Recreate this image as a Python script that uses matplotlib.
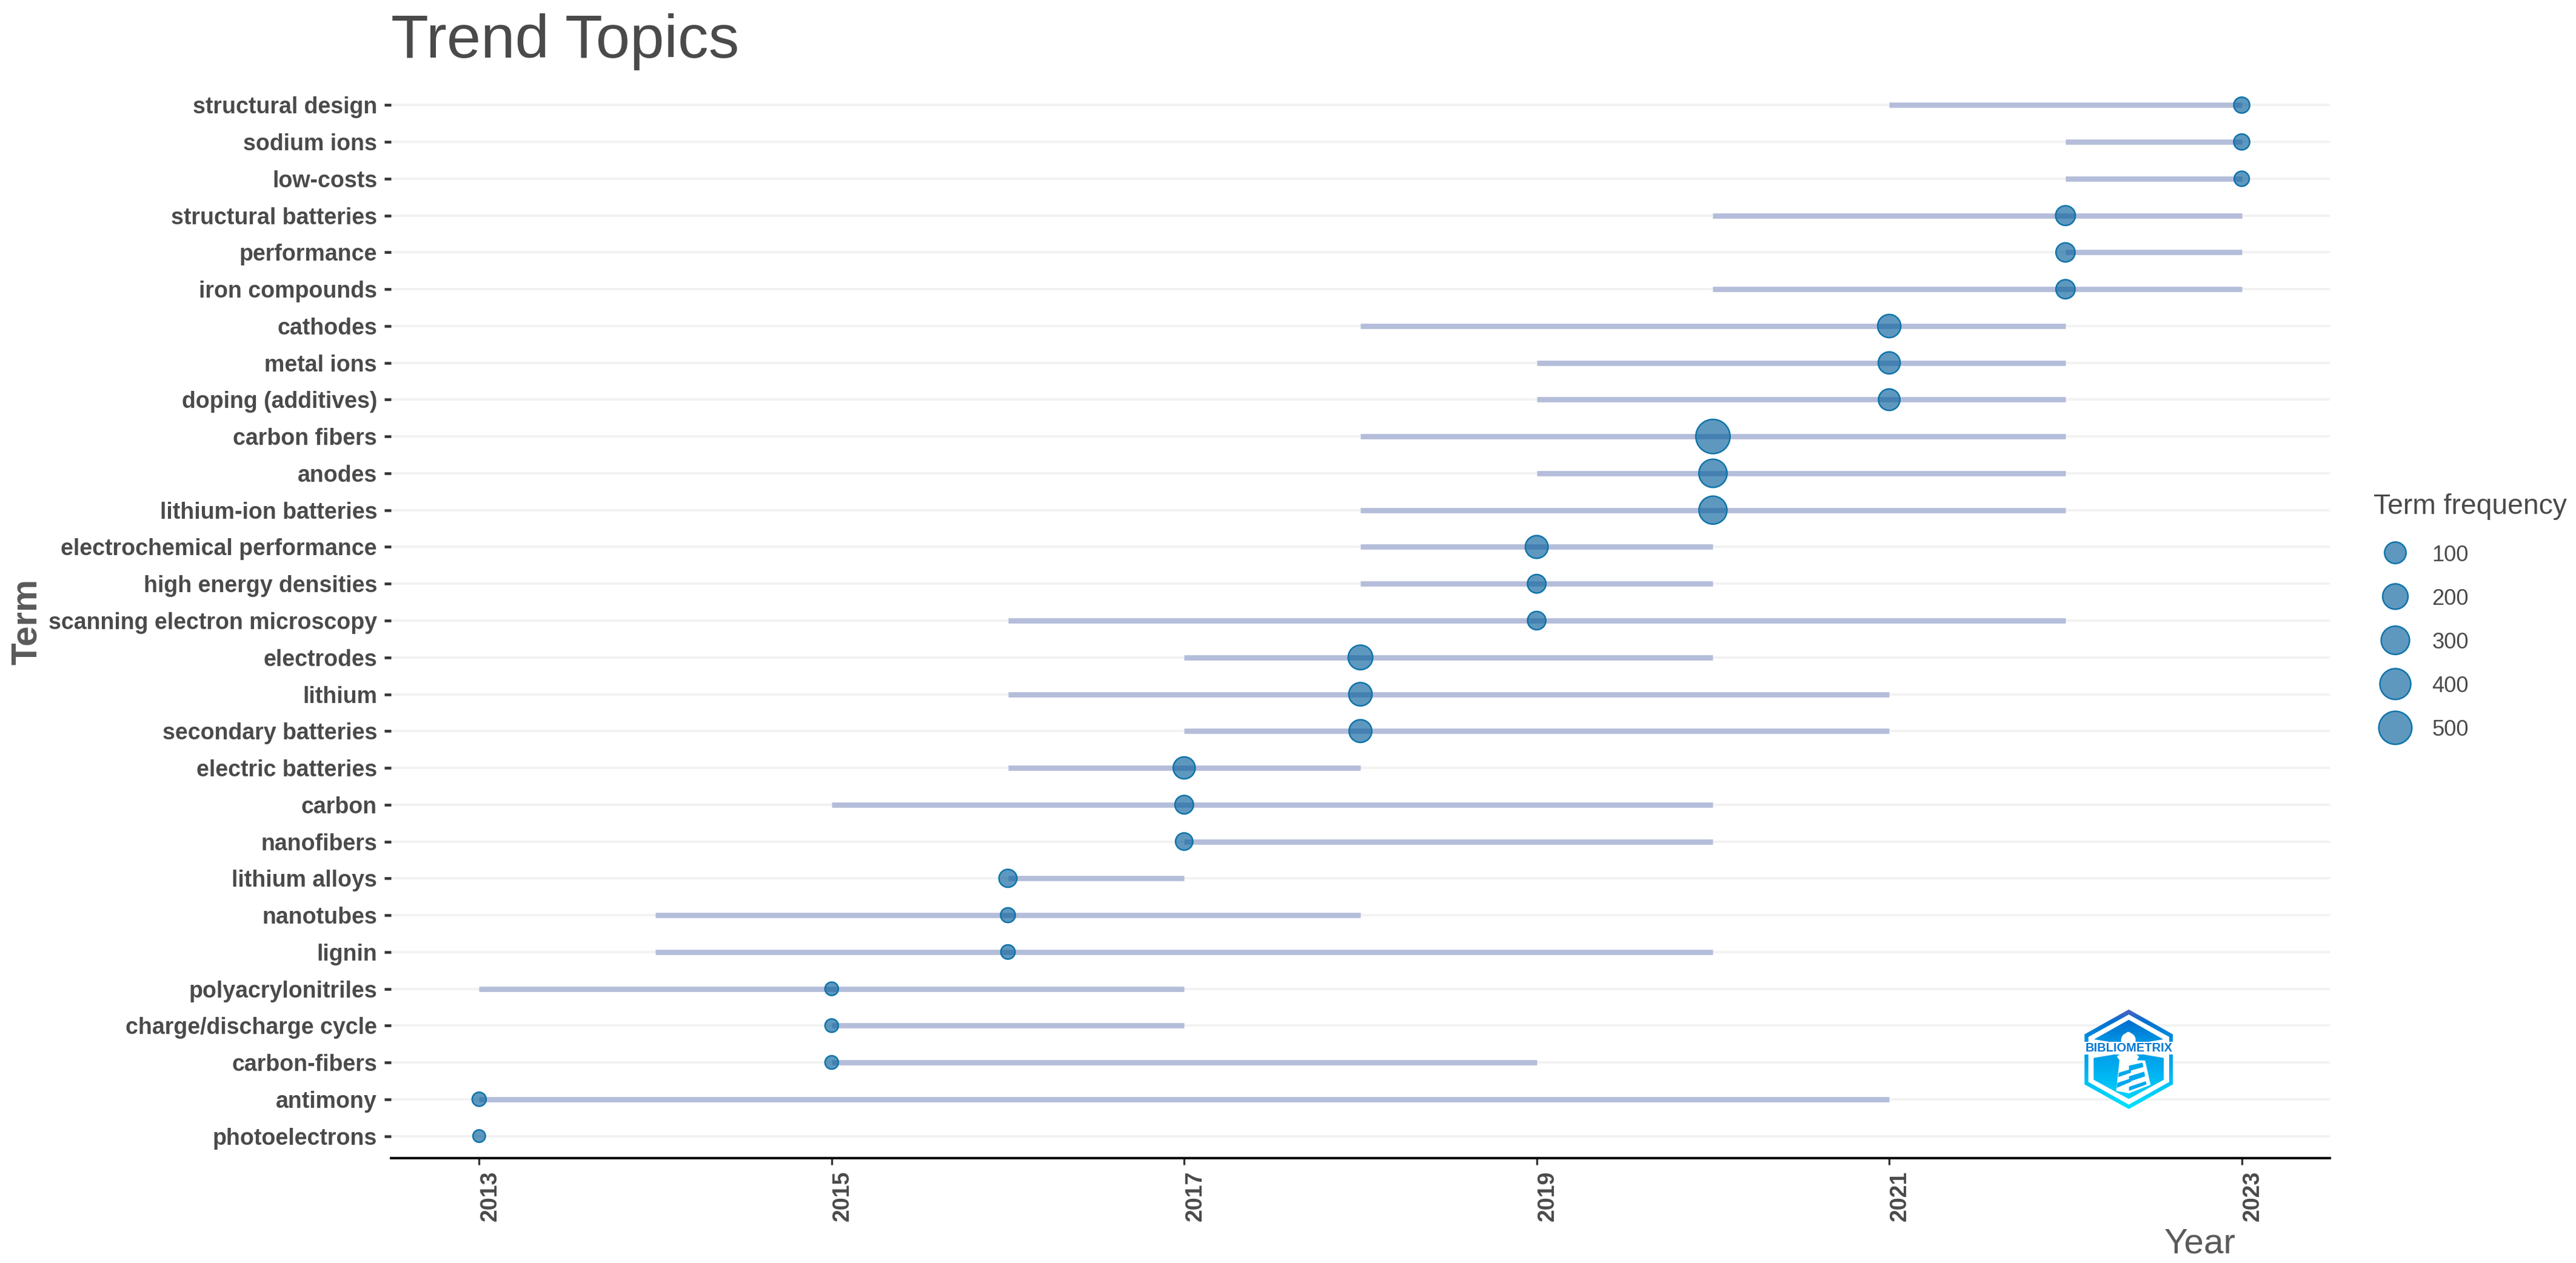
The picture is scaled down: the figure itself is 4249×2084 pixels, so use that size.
import numpy as np
import matplotlib
matplotlib.use('Agg')
import matplotlib.pyplot as plt
from matplotlib.patches import Polygon, Circle

W, H = 4249, 2084
DPI = 300

TERMS = ['structural design', 'sodium ions', 'low-costs', 'structural batteries',
         'performance', 'iron compounds', 'cathodes', 'metal ions',
         'doping (additives)', 'carbon fibers', 'anodes', 'lithium-ion batteries',
         'electrochemical performance', 'high energy densities',
         'scanning electron microscopy', 'electrodes', 'lithium', 'secondary batteries',
         'electric batteries', 'carbon', 'nanofibers', 'lithium alloys', 'nanotubes',
         'lignin', 'polyacrylonitriles', 'charge/discharge cycle', 'carbon-fibers',
         'antimony', 'photoelectrons']
YEAR_Q1 = [2021, 2022, 2022, 2020, 2022, 2020, 2018, 2019, 2019, 2018, 2019, 2018, 2018, 2018,
           2016, 2017, 2016, 2017, 2016, 2015, 2017, 2016, 2014, 2014, 2013, 2015, 2015, 2013, 2013]
YEAR_MED = [2023, 2023, 2023, 2022, 2022, 2022, 2021, 2021, 2021, 2020, 2020, 2020, 2019, 2019,
            2019, 2018, 2018, 2018, 2017, 2017, 2017, 2016, 2016, 2016, 2015, 2015, 2015, 2013, 2013]
YEAR_Q3 = [2023, 2023, 2023, 2023, 2023, 2023, 2022, 2022, 2022, 2022, 2022, 2022, 2020, 2020,
           2022, 2020, 2021, 2021, 2018, 2020, 2020, 2017, 2018, 2020, 2017, 2017, 2019, 2021, 2013]
FREQ = [18, 18, 12, 66, 56, 56, 138, 110, 100, 560, 294, 287, 128, 47,
        44, 176, 143, 128, 110, 47, 31, 39, 10, 8, 5, 5, 5, 7, 4]
YEAR_TICKS = [2013, 2015, 2017, 2019, 2021, 2023]
LEGEND_VALS = [100, 200, 300, 400, 500]

TEXT_C = '#4A4A4A'
LABEL_C = '#5A5A5A'
LINE_C = '#B4BDD9'
GRID_C = '#F2F2F2'
DOT_FC = (0.035, 0.38, 0.615, 0.65)
DOT_EC = '#0E74AA'
FONT = 'Liberation Sans'

plt.rcParams['font.family'] = FONT


def px(n):
    # pixels to points
    return n * 72 / DPI


def dot_size(v):
    # area-style size scale, diameter in pixels
    v = np.asarray(v, dtype=float)
    d = 23 + 36 * np.sqrt(np.clip(v - 4, 0, None) / 556)
    return px(d - 2.5) ** 2


def pixel_axes(x0, y0, x1, y1):
    return fig.add_axes([x0 / W, 1 - y1 / H, (x1 - x0) / W, (y1 - y0) / H])


fig = plt.figure(figsize=(W / DPI, H / DPI), dpi=DPI, facecolor='white')
ax = pixel_axes(645, 137, 3843, 1911)

ypos = np.arange(len(TERMS))[::-1]
ax.hlines(ypos, YEAR_Q1, YEAR_Q3, color=LINE_C, lw=px(8.7), capstyle='butt', zorder=2)
ax.scatter(YEAR_MED, ypos, s=dot_size(FREQ), facecolor=DOT_FC, edgecolor=DOT_EC,
           linewidth=px(2.5), zorder=3, clip_on=False)

ax.set_xlim(2012.5, 2023.5)
ax.set_ylim(-0.6, len(TERMS) - 0.4)
ax.set_yticks(ypos, TERMS)
ax.set_xticks(YEAR_TICKS, [str(y) for y in YEAR_TICKS])
ax.grid(axis='y', color=GRID_C, lw=px(4))
ax.set_axisbelow(True)

for spine in ['top', 'right', 'left']:
    ax.spines[spine].set_visible(False)
ax.spines['bottom'].set_color('black')
ax.spines['bottom'].set_linewidth(px(4))

ax.tick_params(axis='y', length=px(11), width=px(4.5), color='#333333', pad=px(12),
               labelsize=9, labelcolor=TEXT_C)
ax.tick_params(axis='x', length=px(11), width=px(3.3), color='#333333', pad=px(10),
               labelsize=9, labelcolor=TEXT_C)
for lab in ax.get_yticklabels():
    lab.set_fontweight('bold')
for lab in ax.get_xticklabels():
    lab.set_fontweight('bold')
    lab.set_rotation(90)
    lab.set_ha('left')
    lab.set_va('top')

ax.set_title('Trend Topics', loc='left', fontsize=24.3, color=TEXT_C, pad=px(42))

ax.set_xlabel('Year', fontsize=14, color=LABEL_C, ha='right', va='baseline')
ax.xaxis.set_label_coords(3688 / W, 1 - 2068 / H, transform=fig.transFigure)
ax.set_ylabel('Term', fontsize=14.4, fontweight='bold', color=LABEL_C, va='baseline')
ax.yaxis.set_label_coords(60 / W, 1 - 1026 / H, transform=fig.transFigure)

# legend
fig.text(3915 / W, 1 - 848 / H, 'Term frequency', fontsize=11.1, color=TEXT_C, va='baseline')
leg = pixel_axes(3900, 876, 4249, 1237)
leg.set_axis_off()
leg_y = np.arange(len(LEGEND_VALS))
leg.scatter(np.zeros(len(LEGEND_VALS)), leg_y, s=dot_size(LEGEND_VALS), facecolor=DOT_FC,
            edgecolor=DOT_EC, linewidth=px(2.5))
leg.set_xlim(-51, 298)
leg.set_ylim(4.5, -0.5)
for y, v in zip(leg_y, LEGEND_VALS):
    leg.text(121, y, str(v), fontsize=8.7, color=TEXT_C, ha='right', va='center_baseline')

# logo, drawn in crop coordinates
logo = pixel_axes(3438, 1665, 3585, 1831)
logo.set_axis_off()
logo.set_xlim(264, 705)
logo.set_ylim(693, 195)
grad = np.array([0.0, 0.12, 0.3, 0.6, 1.0])
cols = np.array([[0x58, 0x5F, 0xC0], [0x02, 0x70, 0xD0], [0x00, 0x90, 0xE2],
                 [0x00, 0xAE, 0xF0], [0x00, 0xE4, 0xFF]]) / 255
t = np.linspace(0, 1, 200)
ramp = np.stack([np.interp(t, grad, cols[:, i]) for i in range(3)], axis=1)[:, None, :]


def gradient_poly(points):
    patch = Polygon(points, closed=True, fc='none', ec='none')
    logo.add_patch(patch)
    im = logo.imshow(ramp, extent=(264, 705, 693, 195), aspect='auto', zorder=1)
    im.set_clip_path(patch)
    return im


gradient_poly([(484, 197), (702, 320), (702, 568), (484, 690), (265, 568), (265, 320)])
logo.add_patch(Polygon([(484, 222), (684, 333), (684, 556), (484, 668), (284, 556), (284, 333)],
                       fc='white', ec='none', zorder=2))
for pts in ([(484, 248), (655, 345), (520, 367), (448, 367), (312, 345)],
            [(310, 437), (430, 417), (540, 417), (657, 437), (657, 545), (484, 640), (310, 545)]):
    im = gradient_poly(pts)
    im.set_zorder(3)

tower = np.array([(65, 160), (85, 145), (155, 145), (175, 160), (165, 178), (205, 180),
                  (232, 300), (125, 342), (62, 330), (78, 178)]) + (360, 270)
logo.add_patch(Polygon(tower, fc='white', ec='none', zorder=4))
logo.add_patch(Circle((482, 348), 36, fc='white', ec='none', zorder=4))
logo.add_patch(Circle((482, 322), 14, fc='white', ec='none', zorder=4))
stripes = [[(125, 205), (192, 190), (196, 212), (125, 232)],
           [(75, 240), (135, 222), (135, 240), (72, 262)],
           [(125, 258), (200, 235), (205, 258), (125, 285)],
           [(68, 290), (135, 268), (135, 285), (64, 315)],
           [(125, 310), (208, 282), (212, 298), (125, 330)]]
for s in stripes:
    logo.add_patch(Polygon(np.array(s) + (360, 270), fc='#00A8EC', ec='none', zorder=5))
logo.text(484, 389, 'BIBLIOMETRIX', fontsize=4.8, fontweight='bold', color='#0078D4',
          ha='center', va='center', zorder=6,
          bbox=dict(fc='white', ec='none', pad=0.3))

fig.savefig('out.png', dpi=DPI, facecolor='white')
